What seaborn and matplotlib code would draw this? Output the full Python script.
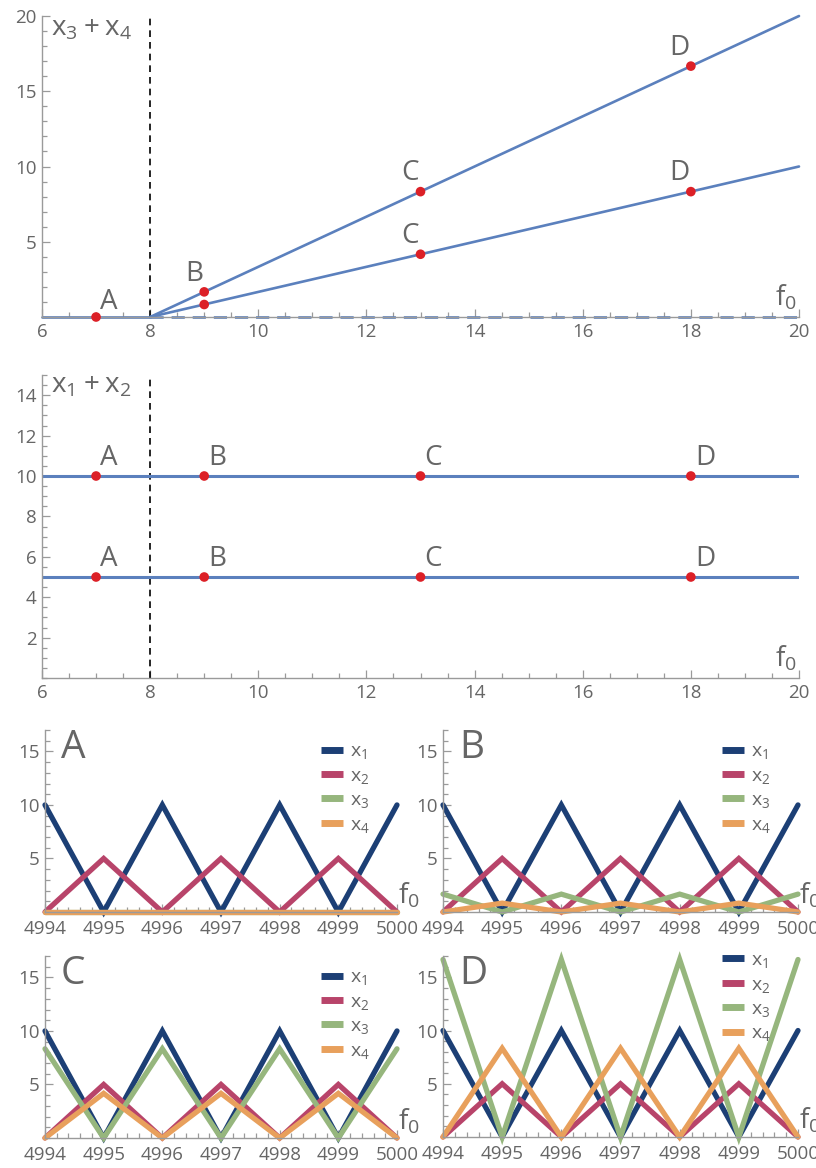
import numpy as np
import pandas as pd
import matplotlib
matplotlib.use("Agg")
import matplotlib.pyplot as plt
from matplotlib.ticker import MultipleLocator, FixedLocator, FormatStrFormatter
import seaborn as sns

# ---------------- data ----------------
# upper panel: x3 + x4 versus the drive f0 (two branches, even / odd steps)
f0_branch = [8, 20]
sum34_even = [0, 20]
sum34_odd = [0, 10]
f0_flat = [6, 8]
sum34_flat = [0, 0]
f0_zero = [8, 20]
sum34_zero = [0, 0]

# marked operating points
point_names = ["A", "B", "C", "D"]
point_f0 = [7, 9, 13, 18]
point_sum34_even = [0, 1.67, 8.33, 16.67]
point_sum34_odd = [0, 0.83, 4.17, 8.33]

# middle panel: x1 + x2 versus f0
f0_range = [6, 20]
sum12_even = [10, 10]
sum12_odd = [5, 5]
point_sum12_even = [10, 10, 10, 10]
point_sum12_odd = [5, 5, 5, 5]

# lower panels: time traces of x1..x4 over the last steps
steps = [4994, 4995, 4996, 4997, 4998, 4999, 5000]
x1_trace = [10, 0, 10, 0, 10, 0, 10]
x2_trace = [0, 5, 0, 5, 0, 5, 0]
x3_traces = {
    "A": [0, 0, 0, 0, 0, 0, 0],
    "B": [1.67, 0, 1.67, 0, 1.67, 0, 1.67],
    "C": [8.33, 0, 8.33, 0, 8.33, 0, 8.33],
    "D": [16.67, 0, 16.67, 0, 16.67, 0, 16.67],
}
x4_traces = {
    "A": [0, 0, 0, 0, 0, 0, 0],
    "B": [0, 0.83, 0, 0.83, 0, 0.83, 0],
    "C": [0, 4.17, 0, 4.17, 0, 4.17, 0],
    "D": [0, 8.33, 0, 8.33, 0, 8.33, 0],
}
series_names = ["x1", "x2", "x3", "x4"]
series_labels = [r"$\mathregular{x_1}$", r"$\mathregular{x_2}$",
                 r"$\mathregular{x_3}$", r"$\mathregular{x_4}$"]

# ---------------- style ----------------
sns.set_style("ticks")
plt.rcParams["font.family"] = ["Open Sans", "DejaVu Sans"]
plt.rcParams["mathtext.fontset"] = "custom"
plt.rcParams["mathtext.rm"] = "Open Sans"

TEXT = "#666666"
AXIS = "#9a9a9a"
BLUE = "#5b80bd"
RED = "#dc2027"
PALETTE = {"x1": "#1c3f75", "x2": "#b8446a", "x3": "#96b67d", "x4": "#e8a05c"}

W, H = 816, 1168
fig = plt.figure(figsize=(W / 100, H / 100), dpi=100)


def make_axes(left, right, bottom, top):
    return fig.add_axes([left / W, 1 - bottom / H, (right - left) / W, (bottom - top) / H])


def style_axes(ax, xpad=4):
    for side in ("top", "right"):
        ax.spines[side].set_visible(False)
    for side in ("left", "bottom"):
        ax.spines[side].set_color(AXIS)
        ax.spines[side].set_linewidth(1.0)
    ax.tick_params(which="both", direction="in", colors=AXIS, labelcolor=TEXT,
                   labelsize=13.5, width=0.9)
    ax.tick_params(axis="x", which="both", pad=xpad)
    ax.tick_params(axis="y", which="both", pad=4)
    ax.tick_params(which="major", length=6)
    ax.tick_params(which="minor", length=3.5)
    ax.set_xlabel("")
    ax.set_ylabel("")
    ax.patch.set_alpha(0)


def f0_label(ax, x, y, ha):
    ax.text(x, y, r"$\mathregular{f_0}$", transform=ax.transAxes, ha=ha,
            va="bottom", fontsize=20, color=TEXT, clip_on=False)


LABEL_SIZE = 20

# ---------------- upper panel ----------------
ax1 = make_axes(42, 799, 317, 16)
sns.lineplot(x=f0_flat, y=sum34_flat, ax=ax1, color=BLUE, linewidth=1.9)
sns.lineplot(x=f0_zero, y=sum34_zero, ax=ax1, color=BLUE, linewidth=1.9)
ax1.lines[-1].set_dashes([5, 3])
sns.lineplot(x=f0_branch, y=sum34_even, ax=ax1, color=BLUE, linewidth=1.9)
sns.lineplot(x=f0_branch, y=sum34_odd, ax=ax1, color=BLUE, linewidth=1.9)
ax1.axvline(8, color="black", linewidth=1.2, dashes=(4, 3), zorder=1)
pts = pd.DataFrame({"f0": point_f0 + point_f0[1:],
                    "v": point_sum34_even + point_sum34_odd[1:]})
sns.scatterplot(data=pts, x="f0", y="v", ax=ax1, color=RED, s=48,
                edgecolor="none", zorder=5, clip_on=False)
for name, f, v in zip(point_names, point_f0, point_sum34_even):
    if name == "A":
        ax1.annotate(name, (f, v), xytext=(3, 1), textcoords="offset points",
                     ha="left", va="bottom", fontsize=LABEL_SIZE, color=TEXT)
    else:
        ax1.annotate(name, (f, v), xytext=(-1, 3), textcoords="offset points",
                     ha="right", va="bottom", fontsize=LABEL_SIZE, color=TEXT)
# the odd branch is labelled only where it is clearly apart from the even one
for name, f, v in zip(point_names[2:], point_f0[2:], point_sum34_odd[2:]):
    ax1.annotate(name, (f, v), xytext=(-1, 3), textcoords="offset points",
                 ha="right", va="bottom", fontsize=LABEL_SIZE, color=TEXT)
ax1.set_xlim(6, 20)
ax1.set_ylim(0, 20)
ax1.xaxis.set_major_locator(MultipleLocator(2))
ax1.xaxis.set_minor_locator(MultipleLocator(0.5))
ax1.yaxis.set_major_locator(FixedLocator([5, 10, 15, 20]))
ax1.yaxis.set_minor_locator(MultipleLocator(1))
style_axes(ax1)
ax1.text(0.012, 1.005, r"$\mathregular{x_3 + x_4}$", transform=ax1.transAxes,
         ha="left", va="top", fontsize=LABEL_SIZE, color=TEXT)
f0_label(ax1, 0.997, 0.015, "right")
for ln in ax1.lines:
    ln.set_clip_on(False)

# ---------------- middle panel ----------------
ax2 = make_axes(42, 799, 678, 375)
sns.lineplot(x=f0_range, y=sum12_even, ax=ax2, color=BLUE, linewidth=2.2)
sns.lineplot(x=f0_range, y=sum12_odd, ax=ax2, color=BLUE, linewidth=2.2)
ax2.axvline(8, color="black", linewidth=1.2, dashes=(4, 3), zorder=1)
pts2 = pd.DataFrame({"f0": point_f0 + point_f0,
                     "v": point_sum12_even + point_sum12_odd})
sns.scatterplot(data=pts2, x="f0", y="v", ax=ax2, color=RED, s=48,
                edgecolor="none", zorder=5)
for name, f, v1, v2 in zip(point_names, point_f0, point_sum12_even, point_sum12_odd):
    for v in (v1, v2):
        ax2.annotate(name, (f, v), xytext=(3, 3), textcoords="offset points",
                     ha="left", va="bottom", fontsize=LABEL_SIZE, color=TEXT)
ax2.set_xlim(6, 20)
ax2.set_ylim(0, 15)
ax2.xaxis.set_major_locator(MultipleLocator(2))
ax2.xaxis.set_minor_locator(MultipleLocator(0.5))
ax2.yaxis.set_major_locator(FixedLocator([2, 4, 6, 8, 10, 12, 14]))
ax2.yaxis.set_minor_locator(MultipleLocator(0.5))
style_axes(ax2)
ax2.text(0.012, 1.01, r"$\mathregular{x_1 + x_2}$", transform=ax2.transAxes,
         ha="left", va="top", fontsize=LABEL_SIZE, color=TEXT)
f0_label(ax2, 0.997, 0.015, "right")

# ---------------- lower panels ----------------
panel_boxes = {
    "A": (45, 397, 912, 730),
    "B": (443, 798, 912, 730),
    "C": (45, 397, 1138, 956),
    "D": (443, 798, 1137, 956),
}
legend_top = {"A": 0.975, "B": 0.975, "C": 0.975, "D": 1.07}
for name in point_names:
    ax = make_axes(*panel_boxes[name])
    traces = pd.DataFrame({
        "step": steps * 4,
        "value": x1_trace + x2_trace + x3_traces[name] + x4_traces[name],
        "series": sum([[s] * len(steps) for s in series_names], []),
    })
    for s, lab in zip(series_names, series_labels):
        sub = traces[traces["series"] == s]
        sns.lineplot(data=sub, x="step", y="value", ax=ax, color=PALETTE[s],
                     linewidth=3.8, label=lab)
    for ln in ax.lines:
        ln.set_clip_on(False)
        ln.set_solid_joinstyle("miter")
    ax.set_xlim(4994, 5000)
    ax.set_ylim(0, 17)
    ax.xaxis.set_major_locator(MultipleLocator(1))
    ax.xaxis.set_minor_locator(MultipleLocator(0.2))
    ax.yaxis.set_major_locator(FixedLocator([5, 10, 15]))
    ax.yaxis.set_minor_locator(MultipleLocator(1))
    style_axes(ax, xpad=6)
    ax.xaxis.set_major_formatter(FormatStrFormatter("%d"))
    leg = ax.legend(loc="upper right", bbox_to_anchor=(0.945, legend_top[name]),
                    frameon=False, fontsize=14, handlelength=1.15,
                    handletextpad=0.35, labelspacing=0.28, borderaxespad=0.0)
    for txt in leg.get_texts():
        txt.set_color(TEXT)
    for h in leg.legend_handles:
        h.set_linewidth(5)
        h.set_solid_capstyle("butt")
    ax.text(0.045, 1.005, name, transform=ax.transAxes, ha="left", va="top",
            fontsize=28, color=TEXT)
    f0_label(ax, 1.003, 0.01, "left")

fig.savefig("out.png", dpi=100)
